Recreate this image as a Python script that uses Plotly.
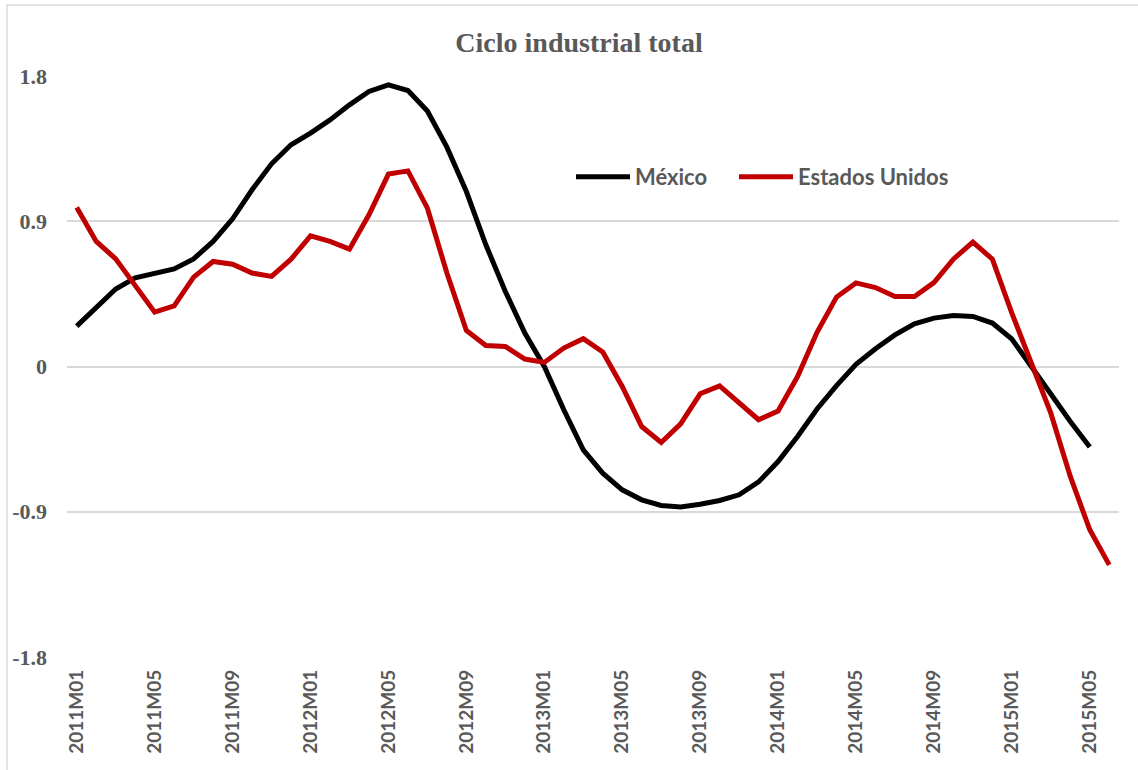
import plotly.graph_objects as go

# Monthly categories 2011M01 .. 2015M06
years = [2011, 2012, 2013, 2014, 2015]
categories = [f"{y}M{m:02d}" for y in years for m in range(1, 13)][:54]

mexico = [0.25, 0.37, 0.48, 0.55, 0.58, 0.605, 0.667, 0.775, 0.915, 1.095,
          1.256, 1.374, 1.446, 1.528, 1.621, 1.704, 1.745, 1.710, 1.583, 1.359,
          1.084, 0.754, 0.465, 0.207, 0.0, -0.268, -0.516, -0.661, -0.764, -0.826,
          -0.861, -0.871, -0.853, -0.830, -0.795, -0.715, -0.589, -0.434, -0.263, -0.118,
          0.013, 0.110, 0.196, 0.265, 0.300, 0.316, 0.310, 0.269, 0.170, 0.0,
          -0.175, -0.341, -0.499]

estados_unidos = [0.985, 0.775, 0.667, 0.506, 0.337, 0.376, 0.554, 0.651, 0.634, 0.579,
                  0.558, 0.665, 0.810, 0.775, 0.727, 0.940, 1.192, 1.212, 0.981, 0.579,
                  0.223, 0.130, 0.124, 0.046, 0.025, 0.114, 0.172, 0.090, -0.124, -0.372,
                  -0.471, -0.355, -0.169, -0.120, -0.227, -0.330, -0.276, -0.062, 0.212, 0.430,
                  0.518, 0.489, 0.434, 0.434, 0.520, 0.665, 0.771, 0.665, 0.331, 0.021,
                  -0.289, -0.681, -1.012, -1.229]

x_tick_labels = categories[::4]
y_tick_values = [1.8, 0.9, 0, -0.9, -1.8]
y_tick_labels = ["1.8", "0.9", "0", "-0.9", "-1.8"]

GRAY = "#595959"
GRID = "#D9D9D9"

fig = go.Figure()
fig.add_trace(go.Scatter(x=categories[:len(mexico)], y=mexico, name="México",
                         mode="lines", line=dict(color="#000000", width=5),
                         legend="legend"))
fig.add_trace(go.Scatter(x=categories, y=estados_unidos, name="Estados Unidos",
                         mode="lines", line=dict(color="#C00000", width=5),
                         legend="legend2"))

L, R, T, B = 67, 19, 76, 113
W, H = 1138, 770
pw, ph = W - L - R, H - T - B

def px2x(p):
    return (p - L) / pw

def py2y(p):
    return (H - B - p) / ph

legend_common = dict(orientation="h", xanchor="left", y=py2y(177), yanchor="middle",
                     font=dict(family="Lato", size=22, color=GRAY, weight="bold"),
                     bgcolor="rgba(0,0,0,0)", itemwidth=54, borderwidth=0)

fig.update_layout(
    width=W, height=H,
    margin=dict(l=L, r=R, t=T, b=B),
    paper_bgcolor="white", plot_bgcolor="white",
    title=dict(text="<b>Ciclo industrial total</b>", x=579 / W, xanchor="center",
               y=1 - 42 / H, yanchor="middle",
               font=dict(family="Liberation Serif", size=28, color=GRAY)),
    showlegend=True,
    legend=dict(x=px2x(571), **legend_common),
    legend2=dict(x=px2x(734), **legend_common),
    xaxis=dict(type="category", categoryorder="array", categoryarray=categories,
               range=[-0.5, len(categories) - 0.5],
               tickmode="array", tickvals=x_tick_labels, ticktext=x_tick_labels,
               tickangle=-90, showgrid=False, zeroline=False, showline=False,
               ticks="", ticklabelstandoff=8,
               tickfont=dict(family="Lato", size=19, color=GRAY, weight="bold")),
    yaxis=dict(range=[-1.8, 1.8], tickmode="array", tickvals=y_tick_values,
               ticktext=y_tick_labels, showgrid=True, gridcolor=GRID, gridwidth=1.5,
               zeroline=False, showline=False, ticks="", ticklabelstandoff=19,
               tickfont=dict(family="Liberation Serif", size=22, color=GRAY, weight="bold")),
    shapes=[dict(type="rect", xref="paper", yref="paper",
                 x0=px2x(7), x1=px2x(1145), y0=py2y(780), y1=py2y(5),
                 line=dict(color=GRID, width=1.5), fillcolor="rgba(0,0,0,0)", layer="below")],
)

fig.write_html("out.html", config={"displayModeBar": False},
               post_script="document.body.style.margin='0';")
